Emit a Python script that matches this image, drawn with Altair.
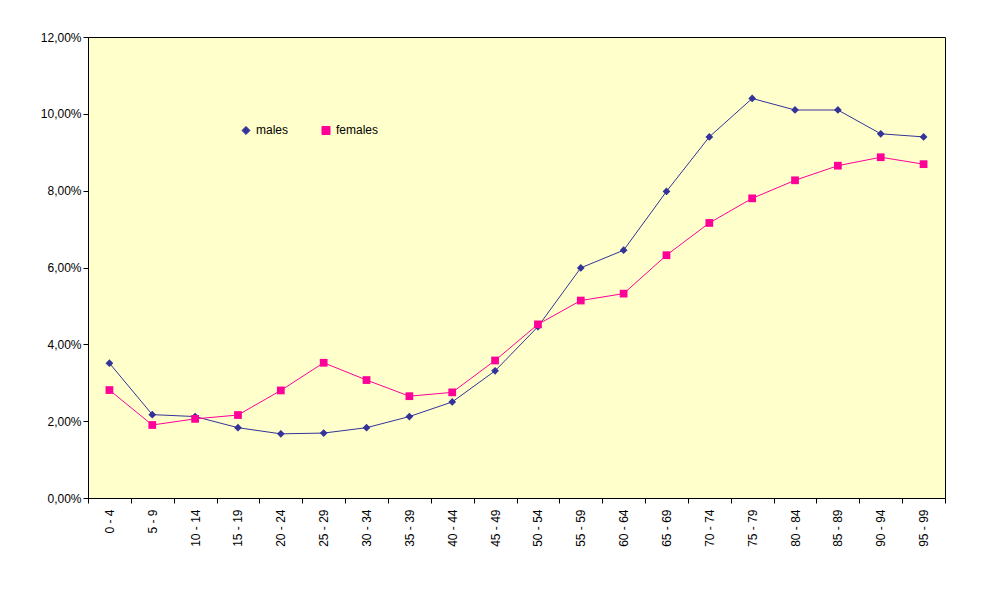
import altair as alt
import pandas as pd

AGES = ["0 - 4", "5 - 9", "10 - 14", "15 - 19", "20 - 24", "25 - 29", "30 - 34",
        "35 - 39", "40 - 44", "45 - 49", "50 - 54", "55 - 59", "60 - 64", "65 - 69",
        "70 - 74", "75 - 79", "80 - 84", "85 - 89", "90 - 94", "95 - 99"]
MALES = [3.51, 2.17, 2.12, 1.83, 1.67, 1.69, 1.83, 2.12, 2.50, 3.31, 4.46, 5.99,
         6.45, 7.98, 9.40, 10.40, 10.10, 10.10, 9.48, 9.40]
FEMALES = [2.81, 1.90, 2.06, 2.16, 2.80, 3.52, 3.07, 2.65, 2.75, 3.58, 4.52, 5.14,
           5.32, 6.32, 7.16, 7.80, 8.27, 8.65, 8.87, 8.69]

SERIES = ["males", "females"]
COLORS = ["#333399", "#FF0099"]

df = pd.DataFrame({
    "age": AGES * 2,
    "value": MALES + FEMALES,
    "series": ["males"] * len(AGES) + ["females"] * len(AGES),
})

x = alt.X("age:N", sort=AGES, title=None, scale=alt.Scale(paddingInner=0, paddingOuter=0),
          axis=alt.Axis(labelAngle=-90, labelFont="Arial", labelFontSize=12, labelColor="black",
                        domainColor="black", tickColor="black", tickBand="extent",
                        labelPadding=6, tickSize=5))
y = alt.Y("value:Q", title=None, scale=alt.Scale(domain=[0, 12]),
          axis=alt.Axis(values=[0, 2, 4, 6, 8, 10, 12], grid=False,
                        labelExpr="replace(format(datum.value, '.2f'), '.', ',') + '%'",
                        labelFont="Arial", labelFontSize=12, labelColor="black",
                        domainColor="black", tickColor="black", tickSize=5))
leg = alt.Legend(title=None, orient="none", legendX=152, legendY=87,
                 direction="horizontal", labelFont="Arial", labelFontSize=12,
                 labelColor="black", symbolSize=65, symbolStrokeWidth=1,
                 columnPadding=30)
color = alt.Color("series:N", scale=alt.Scale(domain=SERIES, range=COLORS), legend=leg)
shape = alt.Shape("series:N", scale=alt.Scale(domain=SERIES, range=["diamond", "square"]),
                  legend=leg)

base = alt.Chart(df)
lines = base.mark_line(strokeWidth=1).encode(x=x, y=y, color=color)
points = base.mark_point(filled=True, size=60, opacity=1).encode(x=x, y=y, color=color, shape=shape)

chart = (lines + points).properties(
    width=857, height=461,
    autosize=alt.AutoSizeParams(type="none"),
    padding={"left": 80, "top": 29, "right": 20, "bottom": 80},
    background="white",
).configure_view(fill="#FFFFCC", stroke="black", strokeWidth=1)

chart.save("out.html", embed_options={"renderer": "svg", "actions": False})
